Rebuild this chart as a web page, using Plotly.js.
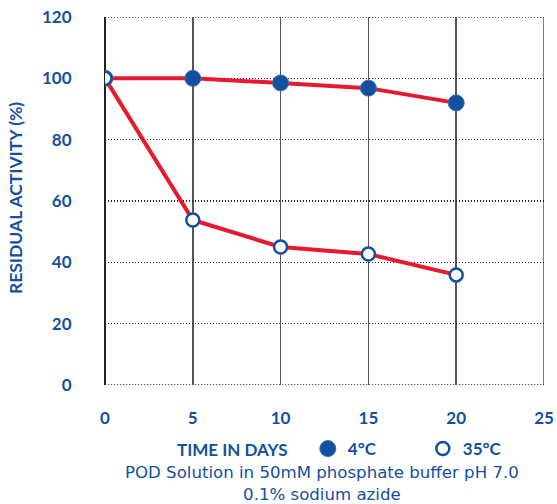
<!DOCTYPE html>
<html>
<head>
<meta charset="utf-8">
<script src="https://cdn.plot.ly/plotly-3.0.1.min.js"></script>
<style>html,body{margin:0;padding:0;background:#fff;}#chart{width:557px;height:504px;}</style>
</head>
<body>
<div id="chart"></div>
<script>
const days = [0, 5, 10, 15, 20];
const cold = [100, 100, 98.5, 96.8, 92];
const warm = [100, 53.8, 45, 42.7, 35.9];
const xTicks = [0, 5, 10, 15, 20, 25];
const yTicks = [0, 20, 40, 60, 80, 100, 120];
const coldName = '4°C';
const warmName = '35°C';

const blue = '#1350a0';
const red = '#e8192c';
const fontFam = 'Lato, "Open Sans", sans-serif';
const wideFam = '"DejaVu Sans", sans-serif';

const xMin = xTicks[0], xMax = xTicks[xTicks.length - 1];
const yMin = yTicks[0], yMax = yTicks[yTicks.length - 1];
const dotDash = '1.2px,1.8px';

const traces = [
  {x: days, y: cold, mode: 'lines', line: {color: red, width: 4}, showlegend: false, hoverinfo: 'skip'},
  {x: days, y: warm, mode: 'lines', line: {color: red, width: 4}, showlegend: false, hoverinfo: 'skip'},
  {x: days, y: cold, mode: 'markers', name: coldName,
   marker: {symbol: 'circle', size: 16, color: blue, line: {color: '#3a6db3', width: 1}}},
  {x: days, y: warm, mode: 'markers', name: warmName,
   marker: {symbol: 'circle', size: 13, color: '#ffffff', line: {color: blue, width: 2.5}}}
];

const layout = {
  width: 557, height: 504,
  margin: {l: 105, r: 13, t: 17, b: 119, autoexpand: false},
  paper_bgcolor: '#fff', plot_bgcolor: '#fff',
  font: {family: fontFam, color: blue},
  xaxis: {
    range: [xMin, xMax], tickvals: xTicks, ticktext: xTicks.map(String),
    showgrid: true, gridcolor: '#555', gridwidth: 1.5,
    zeroline: true, zerolinecolor: '#222', zerolinewidth: 1.5,
    showline: false, ticks: 'outside', ticklen: 18, tickcolor: 'rgba(0,0,0,0)',
    tickfont: {family: fontFam, size: 17, color: blue, weight: 'bold'},
    fixedrange: true
  },
  yaxis: {
    range: [yMin, yMax], tickvals: yTicks, ticktext: yTicks.map(String),
    showgrid: true, gridcolor: '#222', gridwidth: 1.3, griddash: dotDash,
    zeroline: false, showline: false,
    ticks: 'outside', ticklen: 29, tickcolor: 'rgba(0,0,0,0)',
    tickfont: {family: fontFam, size: 17, color: blue, weight: 'bold'},
    fixedrange: true
  },
  shapes: [
    {type: 'line', xref: 'x', yref: 'y', x0: xMin, x1: xMax, y0: yMax, y1: yMax, layer: 'below',
     line: {color: '#222', width: 1.3, dash: dotDash}},
    {type: 'line', xref: 'x', yref: 'y', x0: xMin, x1: xMax, y0: yMin, y1: yMin, layer: 'below',
     line: {color: '#222', width: 1.3, dash: dotDash}},
    {type: 'line', xref: 'x', yref: 'y', x0: xMax, x1: xMax, y0: yMin, y1: yMax, layer: 'below',
     line: {color: '#555', width: 1.5}}
  ],
  legend: {
    orientation: 'h', x: 0.462, y: -0.174, xanchor: 'left', yanchor: 'middle',
    font: {family: fontFam, size: 17, color: blue, weight: 'bold'},
    entrywidth: 70, entrywidthmode: 'pixels',
    itemsizing: 'trace', bgcolor: 'rgba(0,0,0,0)'
  },
  annotations: [
    {text: 'RESIDUAL ACTIVITY (%)', xref: 'paper', yref: 'paper', x: -0.205, y: 0.508, textangle: -90,
     showarrow: false, xanchor: 'center', yanchor: 'middle',
     font: {family: fontFam, size: 17.5, color: blue, weight: 'bold'}},
    {text: 'TIME IN DAYS', xref: 'paper', yref: 'paper', x: 0.289, y: -0.174, showarrow: false,
     xanchor: 'center', yanchor: 'middle', font: {family: fontFam, size: 17, color: blue, weight: 'bold'}},
    {text: 'POD Solution in 50mM phosphate buffer pH 7.0<br>0.1% sodium azide', xref: 'paper', yref: 'paper',
     x: 0.494, y: -0.269, showarrow: false, xanchor: 'center', yanchor: 'middle', align: 'center',
     font: {family: wideFam, size: 16.6, color: blue}}
  ]
};

Plotly.newPlot('chart', traces, layout, {displayModeBar: false, staticPlot: true});
</script>
</body>
</html>
